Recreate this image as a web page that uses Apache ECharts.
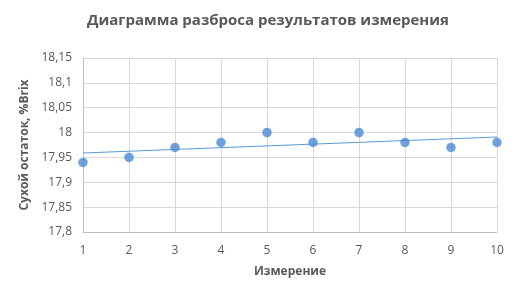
<!DOCTYPE html>
<html><head><meta charset="utf-8">
<script src="https://cdn.jsdelivr.net/npm/echarts@6/dist/echarts.min.js"></script>
<style>html,body{margin:0;padding:0;background:#fff}#c{width:522px;height:299px}</style>
</head><body><div id="c"></div>
<script>
const xValues = [1, 2, 3, 4, 5, 6, 7, 8, 9, 10];
const yValues = [17.94, 17.95, 17.97, 17.98, 18.00, 17.98, 18.00, 17.98, 17.97, 17.98];
const titleText = 'Диаграмма разброса результатов измерения';
const xName = 'Измерение';
const yName = 'Сухой остаток, %Brix';

// linear trendline (least squares)
const n = xValues.length;
const mx = xValues.reduce((a,b)=>a+b,0)/n;
const my = yValues.reduce((a,b)=>a+b,0)/n;
let sxy=0,sxx=0;
for(let i=0;i<n;i++){sxy+=(xValues[i]-mx)*(yValues[i]-my);sxx+=(xValues[i]-mx)**2;}
const slope=sxy/sxx, icpt=my-slope*mx;
const trend=[[xValues[0],icpt+slope*xValues[0]],[xValues[n-1],icpt+slope*xValues[n-1]]];

const font = '"Open Sans", sans-serif';
const chart = echarts.init(document.getElementById('c'));
chart.setOption({
  animation:false,
  title:{text:titleText,left:263,textAlign:'center',top:8,textStyle:{fontFamily:font,fontSize:15,fontWeight:'bold',color:'#595959'}},
  grid:{left:83,right:25,top:58,bottom:67},
  xAxis:{type:'value',min:1,max:10,interval:1,name:xName,nameLocation:'middle',nameGap:34,
    nameTextStyle:{fontFamily:font,fontSize:12,fontWeight:'bold',color:'#595959'},
    axisLine:{lineStyle:{color:'#bfbfbf'}},axisTick:{show:false},
    axisLabel:{fontFamily:font,fontSize:12,color:'#595959',margin:13},
    splitLine:{show:true,lineStyle:{color:'#d9d9d9'}}},
  yAxis:{type:'value',min:17.8,max:18.15,interval:0.05,name:yName,nameLocation:'middle',nameGap:44,
    nameTextStyle:{fontFamily:font,fontSize:12,fontWeight:'bold',color:'#595959'},
    axisLine:{show:true,lineStyle:{color:'#bfbfbf'}},axisTick:{show:false},
    axisLabel:{fontFamily:font,fontSize:12,color:'#595959',margin:11,
      formatter:v=>String(Math.round(v*100)/100).replace('.',',')},
    splitLine:{show:true,lineStyle:{color:'#d9d9d9'}}},
  series:[
    {type:'line',data:trend,symbol:'none',lineStyle:{color:'#5b9bd5',width:1.2},z:2},
    {type:'scatter',data:xValues.map((x,i)=>[x,yValues[i]]),symbolSize:9.5,itemStyle:{color:'#4a89d6'},z:3}
  ]
});
</script></body></html>
